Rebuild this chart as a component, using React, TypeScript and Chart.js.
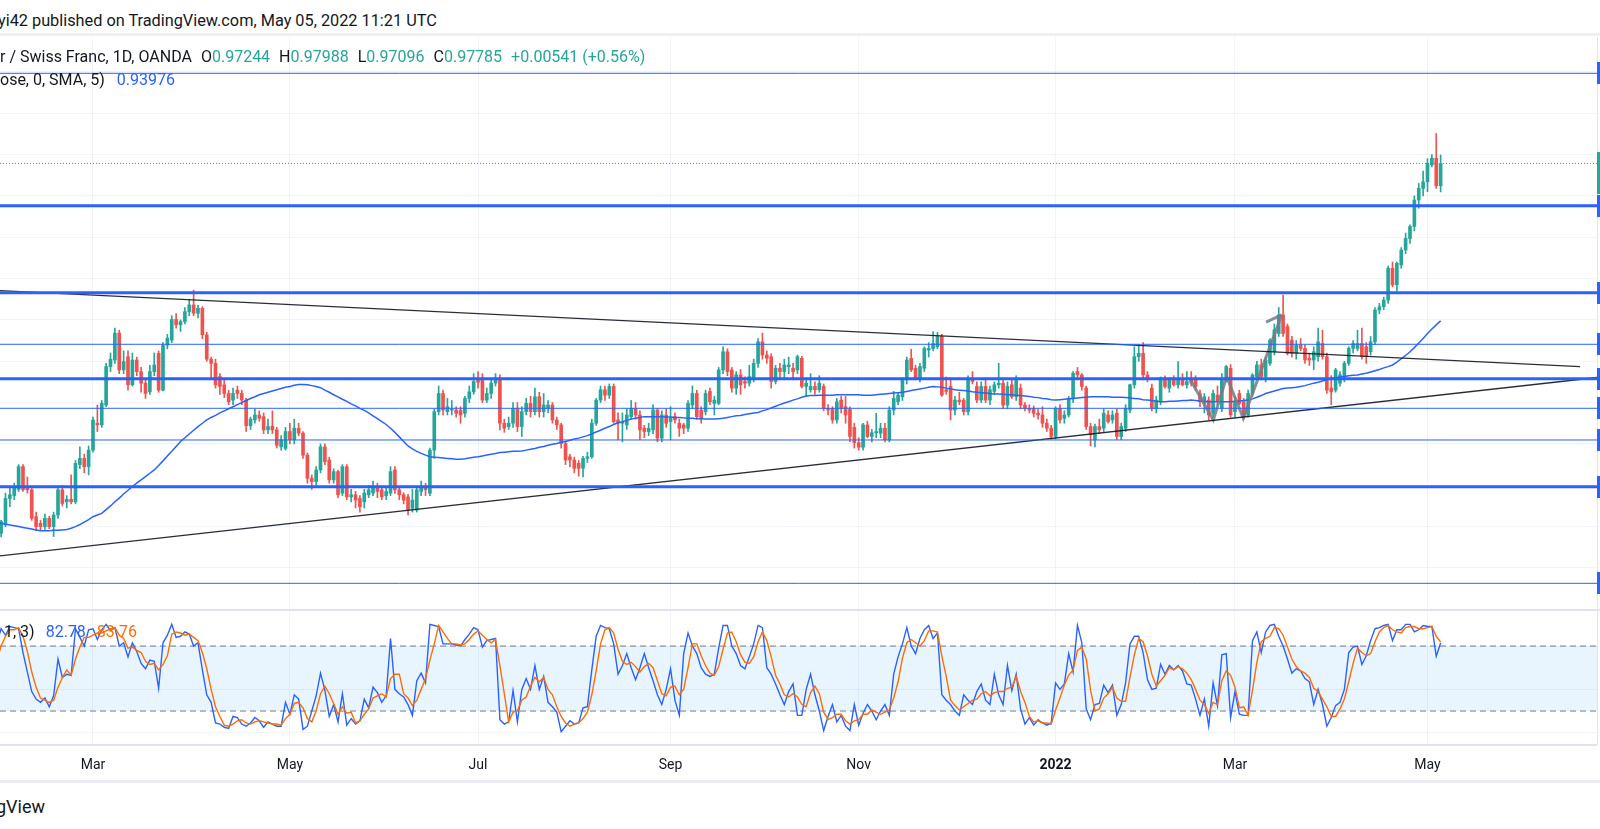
import React, { useEffect, useRef } from 'react';
import { Chart, registerables } from 'chart.js';

Chart.register(...registerables);

const FONT = 'Roboto, "Noto Sans", sans-serif';
const GREEN = '#26a69a';
const RED = '#ef5350';
const BLUE = '#2962ff';
const ORANGE = '#ff6d00';
const GRID = '#f0f3fa';
const TEXT = '#131722';

// ---- price series (daily bars, 28 Jan 2021 .. 5 May 2022) ----
const OPEN = [
  0.8870,0.8884,0.8904,0.8968,0.8975,0.8990,0.9045,0.8993,0.8989,0.8924,
  0.8908,0.8900,0.8920,0.8900,0.8928,0.8989,0.8960,0.8966,0.8960,0.9050,
  0.9065,0.9045,0.9085,0.9150,0.9146,0.9194,0.9287,0.9303,0.9368,0.9279,
  0.9311,0.9243,0.9303,0.9275,0.9247,0.9226,0.9275,0.9319,0.9230,0.9339,
  0.9351,0.9401,0.9388,0.9396,0.9420,0.9436,0.9416,0.9428,0.9364,0.9305,
  0.9295,0.9263,0.9243,0.9222,0.9206,0.9230,0.9222,0.9206,0.9144,0.9158,
  0.9170,0.9166,0.9134,0.9143,0.9134,0.9093,0.9089,0.9130,0.9110,0.9138,
  0.9126,0.9073,0.9017,0.9009,0.9037,0.9093,0.9061,0.9013,0.9033,0.8981,
  0.9045,0.8972,0.8977,0.8968,0.8960,0.8977,0.8981,0.8997,0.8989,0.8975,
  0.8981,0.9037,0.8989,0.8977,0.8972,0.8944,0.8940,0.8985,0.8997,0.8981,
  0.9085,0.9178,0.9222,0.9178,0.9182,0.9182,0.9182,0.9174,0.9210,0.9226,
  0.9255,0.9259,0.9206,0.9222,0.9247,0.9259,0.9150,0.9142,0.9150,0.9186,
  0.9142,0.9178,0.9198,0.9178,0.9214,0.9178,0.9186,0.9194,0.9158,0.9146,
  0.9101,0.9069,0.9061,0.9053,0.9041,0.9065,0.9069,0.9150,0.9206,0.9231,
  0.9218,0.9239,0.9158,0.9150,0.9146,0.9166,0.9186,0.9170,0.9138,0.9130,
  0.9134,0.9182,0.9114,0.9170,0.9154,0.9166,0.9150,0.9146,0.9138,0.9194,
  0.9222,0.9182,0.9178,0.9227,0.9198,0.9198,0.9279,0.9323,0.9279,0.9235,
  0.9267,0.9251,0.9247,0.9259,0.9295,0.9347,0.9315,0.9311,0.9251,0.9283,
  0.9275,0.9287,0.9283,0.9279,0.9307,0.9239,0.9231,0.9239,0.9231,0.9239,
  0.9186,0.9186,0.9158,0.9206,0.9190,0.9184,0.9140,0.9103,0.9092,0.9146,
  0.9118,0.9127,0.9126,0.9138,0.9110,0.9182,0.9202,0.9214,0.9255,0.9307,
  0.9283,0.9255,0.9283,0.9327,0.9331,0.9335,0.9360,0.9231,0.9239,0.9182,
  0.9206,0.9206,0.9178,0.9259,0.9239,0.9206,0.9239,0.9206,0.9227,0.9243,
  0.9247,0.9194,0.9243,0.9214,0.9235,0.9194,0.9186,0.9186,0.9174,0.9170,
  0.9150,0.9138,0.9118,0.9186,0.9162,0.9170,0.9210,0.9275,0.9267,0.9235,
  0.9142,0.9110,0.9142,0.9138,0.9170,0.9158,0.9174,0.9118,0.9138,0.9182,
  0.9243,0.9311,0.9319,0.9267,0.9235,0.9186,0.9202,0.9259,0.9235,0.9255,
  0.9243,0.9255,0.9243,0.9255,0.9255,0.9222,0.9198,0.9206,0.9174,0.9218,
  0.9186,0.9259,0.9283,0.9178,0.9222,0.9202,0.9170,0.9222,0.9263,0.9291,
  0.9263,0.9295,0.9323,0.9367,0.9412,0.9384,0.9351,0.9319,0.9339,0.9331,
  0.9307,0.9303,0.9311,0.9343,0.9311,0.9235,0.9230,0.9247,0.9263,0.9295,
  0.9331,0.9331,0.9343,0.9335,0.9323,0.9347,0.9424,0.9432,0.9448,0.9525,
  0.9485,0.9533,0.9569,0.9597,0.9626,0.9690,0.9718,0.9734,0.9775,0.9791,
  0.97244
];
const HIGH = [
  0.8895,0.8915,0.8981,0.8993,0.9005,0.9050,0.9050,0.9020,0.8995,0.8935,
  0.8915,0.8930,0.8925,0.8935,0.8995,0.9000,0.8975,0.9025,0.9060,0.9093,
  0.9075,0.9095,0.9165,0.9194,0.9205,0.9295,0.9320,0.9380,0.9375,0.9325,
  0.9325,0.9320,0.9310,0.9285,0.9255,0.9290,0.9320,0.9325,0.9345,0.9365,
  0.9410,0.9415,0.9400,0.9430,0.9450,0.9472,0.9435,0.9432,0.9370,0.9310,
  0.9305,0.9270,0.9255,0.9230,0.9235,0.9240,0.9230,0.9210,0.9165,0.9185,
  0.9180,0.9175,0.9160,0.9180,0.9140,0.9120,0.9140,0.9150,0.9160,0.9150,
  0.9130,0.9078,0.9025,0.9045,0.9100,0.9100,0.9068,0.9040,0.9037,0.9050,
  0.9050,0.8990,0.8985,0.8975,0.8990,0.9000,0.9010,0.9005,0.8995,0.8995,
  0.9045,0.9045,0.8995,0.8982,0.8978,0.8990,0.8995,0.9010,0.9005,0.9090,
  0.9185,0.9240,0.9230,0.9210,0.9205,0.9190,0.9190,0.9215,0.9240,0.9270,
  0.9275,0.9270,0.9235,0.9255,0.9270,0.9267,0.9160,0.9165,0.9200,0.9200,
  0.9190,0.9210,0.9215,0.9235,0.9225,0.9222,0.9205,0.9200,0.9165,0.9150,
  0.9105,0.9075,0.9068,0.9060,0.9070,0.9080,0.9160,0.9210,0.9240,0.9240,
  0.9245,0.9245,0.9175,0.9175,0.9185,0.9205,0.9200,0.9180,0.9145,0.9150,
  0.9195,0.9185,0.9180,0.9185,0.9190,0.9175,0.9160,0.9150,0.9205,0.9240,
  0.9230,0.9190,0.9230,0.9235,0.9215,0.9285,0.9335,0.9330,0.9285,0.9275,
  0.9280,0.9262,0.9290,0.9305,0.9355,0.9368,0.9325,0.9318,0.9290,0.9295,
  0.9305,0.9310,0.9295,0.9315,0.9312,0.9260,0.9270,0.9250,0.9265,0.9245,
  0.9195,0.9190,0.9210,0.9215,0.9215,0.9190,0.9150,0.9115,0.9150,0.9155,
  0.9135,0.9174,0.9150,0.9150,0.9190,0.9227,0.9225,0.9260,0.9310,0.9329,
  0.9290,0.9295,0.9335,0.9345,0.9372,0.9370,0.9365,0.9262,0.9260,0.9215,
  0.9225,0.9210,0.9265,0.9275,0.9250,0.9250,0.9260,0.9240,0.9250,0.9295,
  0.9255,0.9250,0.9255,0.9265,0.9245,0.9200,0.9195,0.9192,0.9185,0.9190,
  0.9160,0.9145,0.9190,0.9195,0.9180,0.9215,0.9275,0.9285,0.9270,0.9240,
  0.9150,0.9148,0.9160,0.9185,0.9180,0.9180,0.9185,0.9150,0.9195,0.9245,
  0.9335,0.9340,0.9345,0.9275,0.9245,0.9215,0.9262,0.9265,0.9260,0.9265,
  0.9299,0.9270,0.9275,0.9275,0.9265,0.9230,0.9222,0.9214,0.9230,0.9240,
  0.9270,0.9290,0.9292,0.9215,0.9230,0.9210,0.9230,0.9270,0.9300,0.9305,
  0.9310,0.9355,0.9390,0.9430,0.9460,0.9390,0.9360,0.9350,0.9355,0.9340,
  0.9320,0.9335,0.9380,0.9375,0.9320,0.9265,0.9283,0.9275,0.9300,0.9335,
  0.9350,0.9375,0.9380,0.9345,0.9360,0.9430,0.9440,0.9455,0.9530,0.9540,
  0.9540,0.9575,0.9610,0.9630,0.9700,0.9730,0.9760,0.9790,0.9800,0.9851,
  0.97988
];
const LOW = [
  0.8860,0.8875,0.8900,0.8948,0.8965,0.8985,0.8985,0.8981,0.8915,0.8890,
  0.8890,0.8893,0.8895,0.8876,0.8920,0.8950,0.8945,0.8955,0.8955,0.9040,
  0.9030,0.9025,0.9080,0.9130,0.9140,0.9190,0.9275,0.9295,0.9270,0.9270,
  0.9230,0.9240,0.9265,0.9225,0.9210,0.9220,0.9265,0.9225,0.9228,0.9330,
  0.9345,0.9380,0.9372,0.9390,0.9410,0.9410,0.9405,0.9355,0.9300,0.9260,
  0.9235,0.9220,0.9212,0.9195,0.9195,0.9210,0.9195,0.9130,0.9135,0.9150,
  0.9155,0.9125,0.9125,0.9125,0.9090,0.9085,0.9085,0.9100,0.9100,0.9120,
  0.9065,0.9005,0.8990,0.9000,0.9030,0.9050,0.9005,0.9005,0.8970,0.8975,
  0.8965,0.8960,0.8945,0.8935,0.8945,0.8970,0.8975,0.8970,0.8965,0.8965,
  0.8975,0.8980,0.8965,0.8955,0.8928,0.8935,0.8935,0.8975,0.8975,0.8975,
  0.9065,0.9170,0.9170,0.9170,0.9170,0.9165,0.9150,0.9165,0.9200,0.9220,
  0.9235,0.9200,0.9200,0.9210,0.9240,0.9134,0.9128,0.9135,0.9140,0.9130,
  0.9118,0.9170,0.9165,0.9170,0.9165,0.9165,0.9175,0.9150,0.9135,0.9090,
  0.9050,0.9045,0.9030,0.9022,0.9020,0.9055,0.9065,0.9145,0.9200,0.9205,
  0.9210,0.9150,0.9110,0.9105,0.9135,0.9160,0.9160,0.9110,0.9115,0.9120,
  0.9125,0.9105,0.9105,0.9140,0.9110,0.9150,0.9118,0.9125,0.9130,0.9185,
  0.9160,0.9150,0.9170,0.9195,0.9170,0.9195,0.9270,0.9265,0.9225,0.9220,
  0.9220,0.9235,0.9240,0.9250,0.9285,0.9305,0.9295,0.9235,0.9245,0.9255,
  0.9255,0.9270,0.9255,0.9270,0.9235,0.9215,0.9225,0.9220,0.9225,0.9180,
  0.9170,0.9150,0.9150,0.9175,0.9150,0.9105,0.9090,0.9085,0.9085,0.9115,
  0.9105,0.9115,0.9115,0.9105,0.9105,0.9170,0.9195,0.9205,0.9245,0.9275,
  0.9255,0.9250,0.9275,0.9310,0.9325,0.9330,0.9215,0.9220,0.9158,0.9170,
  0.9195,0.9170,0.9170,0.9245,0.9200,0.9200,0.9200,0.9195,0.9220,0.9235,
  0.9185,0.9185,0.9210,0.9205,0.9185,0.9180,0.9175,0.9165,0.9160,0.9140,
  0.9130,0.9112,0.9112,0.9150,0.9150,0.9165,0.9200,0.9260,0.9230,0.9135,
  0.9095,0.9093,0.9125,0.9130,0.9150,0.9150,0.9110,0.9110,0.9130,0.9175,
  0.9235,0.9300,0.9255,0.9250,0.9180,0.9175,0.9195,0.9235,0.9225,0.9240,
  0.9235,0.9240,0.9235,0.9240,0.9230,0.9190,0.9175,0.9158,0.9165,0.9195,
  0.9178,0.9250,0.9165,0.9165,0.9195,0.9160,0.9165,0.9215,0.9255,0.9255,
  0.9250,0.9290,0.9315,0.9360,0.9360,0.9315,0.9310,0.9305,0.9325,0.9295,
  0.9290,0.9280,0.9300,0.9305,0.9222,0.9195,0.9225,0.9240,0.9250,0.9290,
  0.9320,0.9325,0.9305,0.9295,0.9315,0.9340,0.9415,0.9425,0.9440,0.9480,
  0.9470,0.9525,0.9560,0.9585,0.9615,0.9670,0.9700,0.9710,0.9770,0.9718,
  0.97096
];
const CLOSE = [
  0.8885,0.8912,0.8968,0.8977,0.8997,0.9045,0.8989,0.8989,0.8920,0.8900,
  0.8900,0.8920,0.8900,0.8928,0.8989,0.8956,0.8966,0.8960,0.9053,0.9065,
  0.9045,0.9085,0.9158,0.9146,0.9198,0.9287,0.9305,0.9368,0.9279,0.9299,
  0.9243,0.9303,0.9275,0.9247,0.9222,0.9275,0.9291,0.9230,0.9339,0.9356,
  0.9401,0.9388,0.9396,0.9420,0.9436,0.9416,0.9428,0.9364,0.9305,0.9295,
  0.9243,0.9239,0.9222,0.9202,0.9222,0.9222,0.9206,0.9144,0.9160,0.9170,
  0.9162,0.9134,0.9142,0.9134,0.9097,0.9110,0.9130,0.9110,0.9138,0.9126,
  0.9073,0.9017,0.9009,0.9037,0.9093,0.9057,0.9013,0.9033,0.8977,0.9045,
  0.8972,0.8977,0.8964,0.8948,0.8981,0.8989,0.8993,0.8985,0.8972,0.8985,
  0.9033,0.8989,0.8977,0.8964,0.8940,0.8964,0.8989,0.8997,0.8989,0.9085,
  0.9178,0.9222,0.9182,0.9190,0.9184,0.9174,0.9170,0.9210,0.9226,0.9251,
  0.9249,0.9206,0.9222,0.9247,0.9259,0.9150,0.9138,0.9150,0.9186,0.9142,
  0.9178,0.9198,0.9178,0.9214,0.9178,0.9194,0.9194,0.9158,0.9146,0.9101,
  0.9061,0.9061,0.9041,0.9041,0.9065,0.9069,0.9150,0.9206,0.9231,0.9218,
  0.9239,0.9154,0.9150,0.9150,0.9170,0.9186,0.9170,0.9134,0.9130,0.9138,
  0.9182,0.9114,0.9170,0.9150,0.9162,0.9158,0.9138,0.9138,0.9198,0.9222,
  0.9166,0.9162,0.9222,0.9202,0.9206,0.9279,0.9323,0.9275,0.9235,0.9267,
  0.9243,0.9247,0.9263,0.9295,0.9347,0.9315,0.9307,0.9251,0.9283,0.9275,
  0.9291,0.9291,0.9275,0.9311,0.9239,0.9247,0.9239,0.9231,0.9247,0.9186,
  0.9182,0.9158,0.9202,0.9186,0.9170,0.9118,0.9103,0.9092,0.9146,0.9118,
  0.9127,0.9130,0.9138,0.9110,0.9182,0.9210,0.9218,0.9255,0.9303,0.9279,
  0.9259,0.9287,0.9331,0.9331,0.9343,0.9360,0.9218,0.9227,0.9182,0.9206,
  0.9202,0.9178,0.9259,0.9251,0.9206,0.9239,0.9206,0.9231,0.9243,0.9247,
  0.9194,0.9239,0.9214,0.9255,0.9194,0.9186,0.9182,0.9174,0.9170,0.9150,
  0.9138,0.9118,0.9186,0.9158,0.9170,0.9210,0.9271,0.9267,0.9239,0.9142,
  0.9122,0.9142,0.9134,0.9174,0.9154,0.9170,0.9118,0.9142,0.9186,0.9243,
  0.9311,0.9319,0.9267,0.9255,0.9186,0.9206,0.9259,0.9239,0.9255,0.9243,
  0.9255,0.9243,0.9251,0.9247,0.9239,0.9202,0.9214,0.9170,0.9222,0.9202,
  0.9259,0.9287,0.9170,0.9202,0.9198,0.9170,0.9222,0.9267,0.9291,0.9263,
  0.9303,0.9351,0.9376,0.9412,0.9367,0.9319,0.9319,0.9339,0.9331,0.9303,
  0.9303,0.9323,0.9347,0.9311,0.9230,0.9226,0.9279,0.9267,0.9295,0.9331,
  0.9343,0.9343,0.9311,0.9311,0.9347,0.9424,0.9432,0.9448,0.9525,0.9485,
  0.9537,0.9569,0.9597,0.9626,0.9690,0.9718,0.9734,0.9779,0.9791,0.97244,
  0.97785
];
const MA = [
  0.8910,0.8908,0.8906,0.8904,0.8902,0.8900,0.8898,0.8896,0.8894,0.8892,
  0.8890,0.8890,0.8890,0.8891,0.8891,0.8892,0.8893,0.8896,0.8900,0.8905,
  0.8911,0.8917,0.8924,0.8928,0.8932,0.8941,0.8950,0.8960,0.8969,0.8979,
  0.8988,0.8997,0.9005,0.9013,0.9021,0.9029,0.9037,0.9048,0.9059,0.9071,
  0.9082,0.9094,0.9106,0.9115,0.9124,0.9133,0.9142,0.9150,0.9158,0.9164,
  0.9169,0.9175,0.9180,0.9185,0.9190,0.9195,0.9200,0.9205,0.9210,0.9214,
  0.9219,0.9222,0.9225,0.9228,0.9231,0.9234,0.9237,0.9239,0.9242,0.9244,
  0.9244,0.9243,0.9241,0.9239,0.9236,0.9230,0.9225,0.9219,0.9214,0.9208,
  0.9203,0.9197,0.9192,0.9186,0.9181,0.9175,0.9168,0.9161,0.9154,0.9147,
  0.9138,0.9128,0.9117,0.9106,0.9095,0.9088,0.9082,0.9077,0.9073,0.9069,
  0.9068,0.9067,0.9066,0.9065,0.9064,0.9063,0.9063,0.9064,0.9066,0.9068,
  0.9069,0.9071,0.9073,0.9075,0.9077,0.9079,0.9080,0.9081,0.9082,0.9082,
  0.9083,0.9085,0.9087,0.9089,0.9092,0.9094,0.9097,0.9099,0.9101,0.9104,
  0.9106,0.9109,0.9112,0.9114,0.9117,0.9120,0.9124,0.9129,0.9133,0.9138,
  0.9142,0.9147,0.9151,0.9154,0.9157,0.9160,0.9162,0.9164,0.9166,0.9166,
  0.9166,0.9166,0.9166,0.9165,0.9165,0.9164,0.9164,0.9163,0.9162,0.9162,
  0.9161,0.9161,0.9160,0.9160,0.9160,0.9161,0.9162,0.9164,0.9166,0.9168,
  0.9169,0.9171,0.9173,0.9175,0.9176,0.9180,0.9183,0.9187,0.9191,0.9195,
  0.9199,0.9202,0.9206,0.9209,0.9213,0.9216,0.9217,0.9217,0.9218,0.9218,
  0.9218,0.9218,0.9219,0.9219,0.9219,0.9219,0.9219,0.9219,0.9218,0.9218,
  0.9218,0.9219,0.9220,0.9221,0.9222,0.9223,0.9224,0.9225,0.9227,0.9229,
  0.9231,0.9233,0.9235,0.9237,0.9239,0.9238,0.9237,0.9235,0.9233,0.9231,
  0.9230,0.9229,0.9228,0.9226,0.9225,0.9224,0.9223,0.9222,0.9221,0.9221,
  0.9220,0.9219,0.9219,0.9218,0.9217,0.9216,0.9215,0.9213,0.9212,0.9210,
  0.9209,0.9207,0.9206,0.9207,0.9208,0.9209,0.9210,0.9211,0.9212,0.9213,
  0.9214,0.9214,0.9214,0.9214,0.9214,0.9213,0.9213,0.9213,0.9212,0.9211,
  0.9210,0.9209,0.9207,0.9206,0.9205,0.9203,0.9202,0.9202,0.9203,0.9203,
  0.9204,0.9205,0.9205,0.9206,0.9205,0.9204,0.9203,0.9202,0.9202,0.9202,
  0.9202,0.9202,0.9202,0.9203,0.9204,0.9205,0.9206,0.9209,0.9213,0.9217,
  0.9222,0.9225,0.9228,0.9231,0.9234,0.9235,0.9236,0.9237,0.9239,0.9241,
  0.9244,0.9247,0.9249,0.9252,0.9255,0.9258,0.9260,0.9262,0.9263,0.9265,
  0.9266,0.9267,0.9269,0.9271,0.9274,0.9277,0.9280,0.9284,0.9287,0.9291,
  0.9298,0.9306,0.9314,0.9323,0.9333,0.9344,0.9355,0.9367,0.9378,0.9388,
  0.93976
];
const STOCH_K = [
  82,96,90,98,97,96,74,56,38,31, 28,32,24,34,68,51,54,53,96,88,
  80,95,96,86,95,100,94,97,80,83, 70,83,75,64,59,67,66,41,83,90,
  100,88,89,93,91,80,83,58,35,28, 9,8,5,4,15,14,8,6,9,14,
  11,5,10,8,6,6,28,17,35,31, 3,6,20,34,55,39,15,26,10,36,
  7,13,8,11,31,23,42,37,28,34, 87,40,36,33,26,16,48,55,46,100,
  99,98,82,82,82,81,80,86,91,97, 95,79,85,86,87,12,8,10,39,10,
  40,50,40,62,40,52,28,24,19,1, 6,11,8,9,23,24,58,89,99,97,
  96,82,54,62,73,60,49,60,73,60, 48,35,26,40,59,30,16,73,92,80,
  73,60,54,52,54,78,99,99,80,73, 62,59,70,82,99,97,60,54,45,35,
  26,38,45,16,16,40,54,35,20,2, 15,26,10,16,6,2,26,7,18,26,
  20,12,20,26,16,54,70,82,97,80, 73,87,95,99,87,92,35,30,26,20,
  16,35,30,26,38,45,30,26,54,35, 26,62,39,54,22,8,14,7,12,9,
  7,9,46,40,45,73,56,99,83,22, 12,26,27,44,37,44,16,26,46,82,
  89,89,74,49,40,41,63,54,62,58, 62,57,45,44,31,16,31,6,46,25,
  72,73,14,38,17,16,16,85,93,74, 93,99,100,89,80,68,55,59,57,50,
  47,26,40,26,6,14,25,28,40,74, 79,80,63,71,85,96,97,99,100,85,
  95,95,100,100,93,95,99,98,98,70.5, 82.78
];
const STOCH_D = [
  66,80,89,95,95,97,89,75,56,42, 32,30,28,30,42,51,58,53,68,79,
  88,88,90,92,92,94,96,97,90,87, 78,79,76,74,66,63,64,58,63,71,
  91,93,92,90,91,88,85,74,59,40, 24,15,7,6,8,11,12,9,8,10,
  11,10,9,8,8,7,13,17,27,28, 23,13,10,20,36,43,36,27,17,24,
  18,19,9,11,17,22,32,34,36,33, 50,54,54,36,32,25,30,40,50,67,
  82,99,93,87,82,82,81,82,86,91, 94,90,86,83,86,62,36,10,19,20,
  30,33,43,51,47,51,40,35,24,15, 9,6,8,9,13,19,35,57,82,95,
  97,92,77,66,63,65,61,56,61,64, 60,48,36,34,42,43,35,40,60,82,
  82,71,62,55,53,61,77,92,93,84, 72,65,64,70,84,93,85,70,53,45,
  35,33,36,33,26,24,37,43,36,19, 12,14,17,17,11,8,11,12,17,17,
  21,19,17,19,21,32,47,69,83,86, 83,80,85,94,94,93,71,52,30,25,
  21,24,27,30,31,36,38,34,37,38, 38,41,42,52,38,28,15,10,11,9,
  9,8,21,32,44,53,58,76,79,68, 39,20,22,32,36,42,32,29,29,51,
  72,87,84,71,54,43,48,53,60,58, 61,59,55,49,40,30,26,18,28,26,
  48,57,53,42,23,24,16,39,65,84, 87,89,97,96,90,79,68,61,57,55,
  51,41,38,31,24,15,15,22,31,47, 64,78,74,71,73,84,93,97,99,95,
  93,92,97,98,98,96,96,97,98,89, 83.76
];

// ---- axes ----
const MONTH_TICKS = [22, 67, 110, 154, 197, 242, 283, 327];
const MONTH_LABELS = ['Mar', 'May', 'Jul', 'Sep', 'Nov', '2022', 'Mar', 'May'];
const PRICE_GRID = [0.87, 0.88, 0.89, 0.90, 0.91, 0.92, 0.93, 0.94, 0.95, 0.96, 0.97, 0.98, 0.99, 1.00];
const STOCH_GRID = [0, 40, 80];
const STOCH_BANDS = [20, 80];

// ---- drawings ----
const H_LINES = [0.99965, 0.96762, 0.94658, 0.93410, 0.92578, 0.91862, 0.91095, 0.89965, 0.87628];
const H_LINE_BOLD = [false, true, true, false, true, false, false, true, false];
const UPPER_TREND = [{ x: 0, y: 0.94710 }, { x: 361.86, y: 0.92868 }];
const LOWER_TREND = [{ x: 0, y: 0.88282 }, { x: 366, y: 0.92610 }];
const ZIGZAG = [
  { x: 272.84, y: 0.92546 }, { x: 278.05, y: 0.91578 }, { x: 281.1, y: 0.92626 },
  { x: 284.9, y: 0.91620 }, { x: 293.68, y: 0.94119 },
];
const ARROW_WING = [{ x: 290.09, y: 0.93949 }, { x: 293.68, y: 0.94119 }];

const X_MIN = 0.745;
const X_MAX = 365.74;
const PRICE_MIN = 0.869826;
const PRICE_MAX = 1.008433;
const STOCH_MIN = -11.35;
const STOCH_MAX = 112.34;

const LAST = CLOSE.length - 1;
const fmt = (v: number) => v.toFixed(5);

const hline = (y: number) => [{ x: X_MIN, y }, { x: X_MAX, y }];

const edgePlugin = (markers: boolean) => ({
  id: 'edge' + (markers ? 'M' : 'S'),
  afterDatasetsDraw(chart: any) {
    const { ctx, chartArea, scales } = chart;
    ctx.save();
    ctx.fillStyle = '#e0e3eb';
    ctx.fillRect(chartArea.right, chartArea.top, 1, chartArea.bottom - chartArea.top);
    if (markers) {
      ctx.fillStyle = BLUE;
      H_LINES.forEach((p) => {
        const y = Math.round(scales.y.getPixelForValue(p));
        ctx.fillRect(chartArea.right, y - 11, 3, 22);
      });
      const yc = Math.round(scales.y.getPixelForValue(CLOSE[LAST]));
      ctx.fillStyle = GREEN;
      ctx.fillRect(chartArea.right, yc - 11, 3, 42);
    }
    ctx.restore();
  },
});

export default function App() {
  const mainRef = useRef<HTMLCanvasElement>(null);
  const stochRef = useRef<HTMLCanvasElement>(null);

  useEffect(() => {
    const idx = OPEN.map((_, i) => i);
    const colors = idx.map((i) => (CLOSE[i] >= OPEN[i] ? GREEN : RED));
    const lineBase = { type: 'line' as const, pointRadius: 0, tension: 0, fill: false };

    const mainChart = new Chart(mainRef.current as HTMLCanvasElement, {
      type: 'bar',
      data: {
        datasets: [
          ...H_LINES.map((p, k) => ({
            ...lineBase, data: hline(p), borderColor: BLUE, borderWidth: H_LINE_BOLD[k] ? 3 : 1,
          })),
          { ...lineBase, data: UPPER_TREND, borderColor: 'rgba(19,23,34,0.9)', borderWidth: 1.3 },
          { ...lineBase, data: LOWER_TREND, borderColor: 'rgba(19,23,34,0.9)', borderWidth: 1.3 },
          { ...lineBase, data: ZIGZAG, borderColor: 'rgba(120,123,134,0.85)', borderWidth: 3 },
          { ...lineBase, data: ARROW_WING, borderColor: 'rgba(120,123,134,0.85)', borderWidth: 3 },
          { ...lineBase, data: hline(CLOSE[LAST]), borderColor: GREEN, borderWidth: 1, borderDash: [1, 2] },
          { ...lineBase, data: MA.map((v, i) => ({ x: i, y: v })), borderColor: BLUE, borderWidth: 1.5 },
          {
            type: 'bar', data: idx.map((i) => ({ x: i, y: [OPEN[i], CLOSE[i]] })),
            backgroundColor: colors, barThickness: 3, minBarLength: 1, grouped: false,
          },
          {
            type: 'bar', data: idx.map((i) => ({ x: i, y: [LOW[i], HIGH[i]] })),
            backgroundColor: colors, barThickness: 1, grouped: false,
          },
        ] as any,
      },
      options: {
        animation: false,
        responsive: false,
        events: [],
        layout: { padding: { left: 0, right: 3, top: 0, bottom: 0 } },
        plugins: { legend: { display: false }, tooltip: { enabled: false } },
        scales: {
          x: {
            type: 'linear', min: X_MIN, max: X_MAX, offset: false,
            grid: { color: GRID, drawTicks: false, offset: false },
            border: { display: false },
            ticks: { display: false },
            afterBuildTicks: (s: any) => { s.ticks = MONTH_TICKS.map((v) => ({ value: v })); },
            afterFit: (s: any) => { s.height = 0; },
          },
          y: {
            type: 'linear', min: PRICE_MIN, max: PRICE_MAX, beginAtZero: false,
            grid: { color: GRID, drawTicks: false },
            border: { display: false },
            ticks: { display: false },
            afterBuildTicks: (s: any) => { s.ticks = PRICE_GRID.map((v) => ({ value: v })); },
            afterFit: (s: any) => { s.width = 0; },
          },
        },
      } as any,
      plugins: [edgePlugin(true)],
    });

    const stochChart = new Chart(stochRef.current as HTMLCanvasElement, {
      type: 'line',
      data: {
        datasets: [
          { ...lineBase, data: STOCH_D.map((v, i) => ({ x: i, y: v })), borderColor: ORANGE, borderWidth: 1.4 },
          { ...lineBase, data: STOCH_K.map((v, i) => ({ x: i, y: v })), borderColor: BLUE, borderWidth: 1.4 },
          ...STOCH_BANDS.map((b) => ({
            ...lineBase, data: hline(b), borderColor: '#787b86', borderWidth: 1, borderDash: [6, 4],
          })),
          {
            ...lineBase, data: hline(STOCH_BANDS[1]), borderWidth: 0, borderColor: 'rgba(0,0,0,0)',
            fill: { value: STOCH_BANDS[0] }, backgroundColor: 'rgba(33,150,243,0.1)',
          },
        ] as any,
      },
      options: {
        animation: false,
        responsive: false,
        events: [],
        layout: { padding: { left: 0, right: 3, top: 0, bottom: 0 } },
        plugins: { legend: { display: false }, tooltip: { enabled: false } },
        scales: {
          x: {
            type: 'linear', min: X_MIN, max: X_MAX, offset: false,
            grid: { color: GRID, drawTicks: false },
            border: { display: false },
            ticks: {
              autoSkip: false, maxRotation: 0, padding: 12, color: TEXT,
              callback: (v: any) => MONTH_LABELS[MONTH_TICKS.indexOf(Number(v))] ?? '',
              font: (c: any) => ({
                family: FONT, size: 14,
                weight: c.tick && MONTH_LABELS[MONTH_TICKS.indexOf(c.tick.value)] === '2022' ? 'bold' : 'normal',
              }),
            },
            afterBuildTicks: (s: any) => { s.ticks = MONTH_TICKS.map((v) => ({ value: v })); },
            afterFit: (s: any) => { s.height = 37; },
          },
          y: {
            type: 'linear', min: STOCH_MIN, max: STOCH_MAX,
            grid: { color: GRID, drawTicks: false },
            border: { display: false },
            ticks: { display: false },
            afterBuildTicks: (s: any) => { s.ticks = STOCH_GRID.map((v) => ({ value: v })); },
            afterFit: (s: any) => { s.width = 0; },
          },
        },
      } as any,
      plugins: [edgePlugin(false)],
    });

    return () => { mainChart.destroy(); stochChart.destroy(); };
  }, []);

  const txt: React.CSSProperties = {
    position: 'absolute', whiteSpace: 'nowrap', fontFamily: FONT, color: TEXT, zIndex: 2,
  };
  const lbl: React.CSSProperties = { marginLeft: 9 };

  return (
    <div style={{ position: 'fixed', left: 0, top: 0, width: 1600, height: 829, background: '#fff', overflow: 'hidden' }}>
      <div style={{ ...txt, left: -2, top: 9, fontSize: 16.3, lineHeight: '24px' }}>
        yi42 published on TradingView.com, May 05, 2022 11:21 UTC
      </div>
      <div style={{ position: 'absolute', left: 0, top: 33, width: 1600, height: 3, background: '#eef0f4' }} />
      <canvas ref={mainRef} width={1600} height={573}
        style={{ position: 'absolute', left: 0, top: 37, width: 1600, height: 573 }} />
      <div style={{ ...txt, left: 0, top: 45, fontSize: 16, lineHeight: '24px' }}>
        <span>r / Swiss Franc, 1D, OANDA</span>
        <span style={lbl}>O</span><span style={{ color: GREEN }}>{fmt(OPEN[LAST])}</span>
        <span style={lbl}>H</span><span style={{ color: GREEN }}>{fmt(HIGH[LAST])}</span>
        <span style={lbl}>L</span><span style={{ color: GREEN }}>{fmt(LOW[LAST])}</span>
        <span style={lbl}>C</span><span style={{ color: GREEN }}>{fmt(CLOSE[LAST])}</span>
        <span style={{ ...lbl, color: GREEN }}>+0.00541 (+0.56%)</span>
      </div>
      <div style={{ ...txt, left: 0, top: 68, fontSize: 16, lineHeight: '24px' }}>
        <span>ose, 0, SMA, 5)</span>
        <span style={{ marginLeft: 12, color: BLUE }}>{MA[LAST].toFixed(5)}</span>
      </div>
      <div style={{ position: 'absolute', left: 0, top: 609, width: 1600, height: 2, background: '#e0e3eb', zIndex: 1 }} />
      <canvas ref={stochRef} width={1600} height={171}
        style={{ position: 'absolute', left: 0, top: 611, width: 1600, height: 171 }} />
      <div style={{ ...txt, left: 4, top: 620, fontSize: 16, lineHeight: '24px' }}>
        <span>1, 3)</span>
        <span style={{ marginLeft: 11, color: BLUE }}>{STOCH_K[LAST].toFixed(2)}</span>
        <span style={{ marginLeft: 11, color: ORANGE }}>{STOCH_D[LAST].toFixed(2)}</span>
      </div>
      <div style={{ position: 'absolute', left: 0, top: 744, width: 1597, height: 2, background: '#e0e3eb', zIndex: 1 }} />
      <div style={{ position: 'absolute', left: 0, top: 780, width: 1600, height: 3, background: '#e9ebf0' }} />
      <div style={{ ...txt, left: -4, top: 795, fontSize: 18, lineHeight: '24px' }}>gView</div>
    </div>
  );
}
